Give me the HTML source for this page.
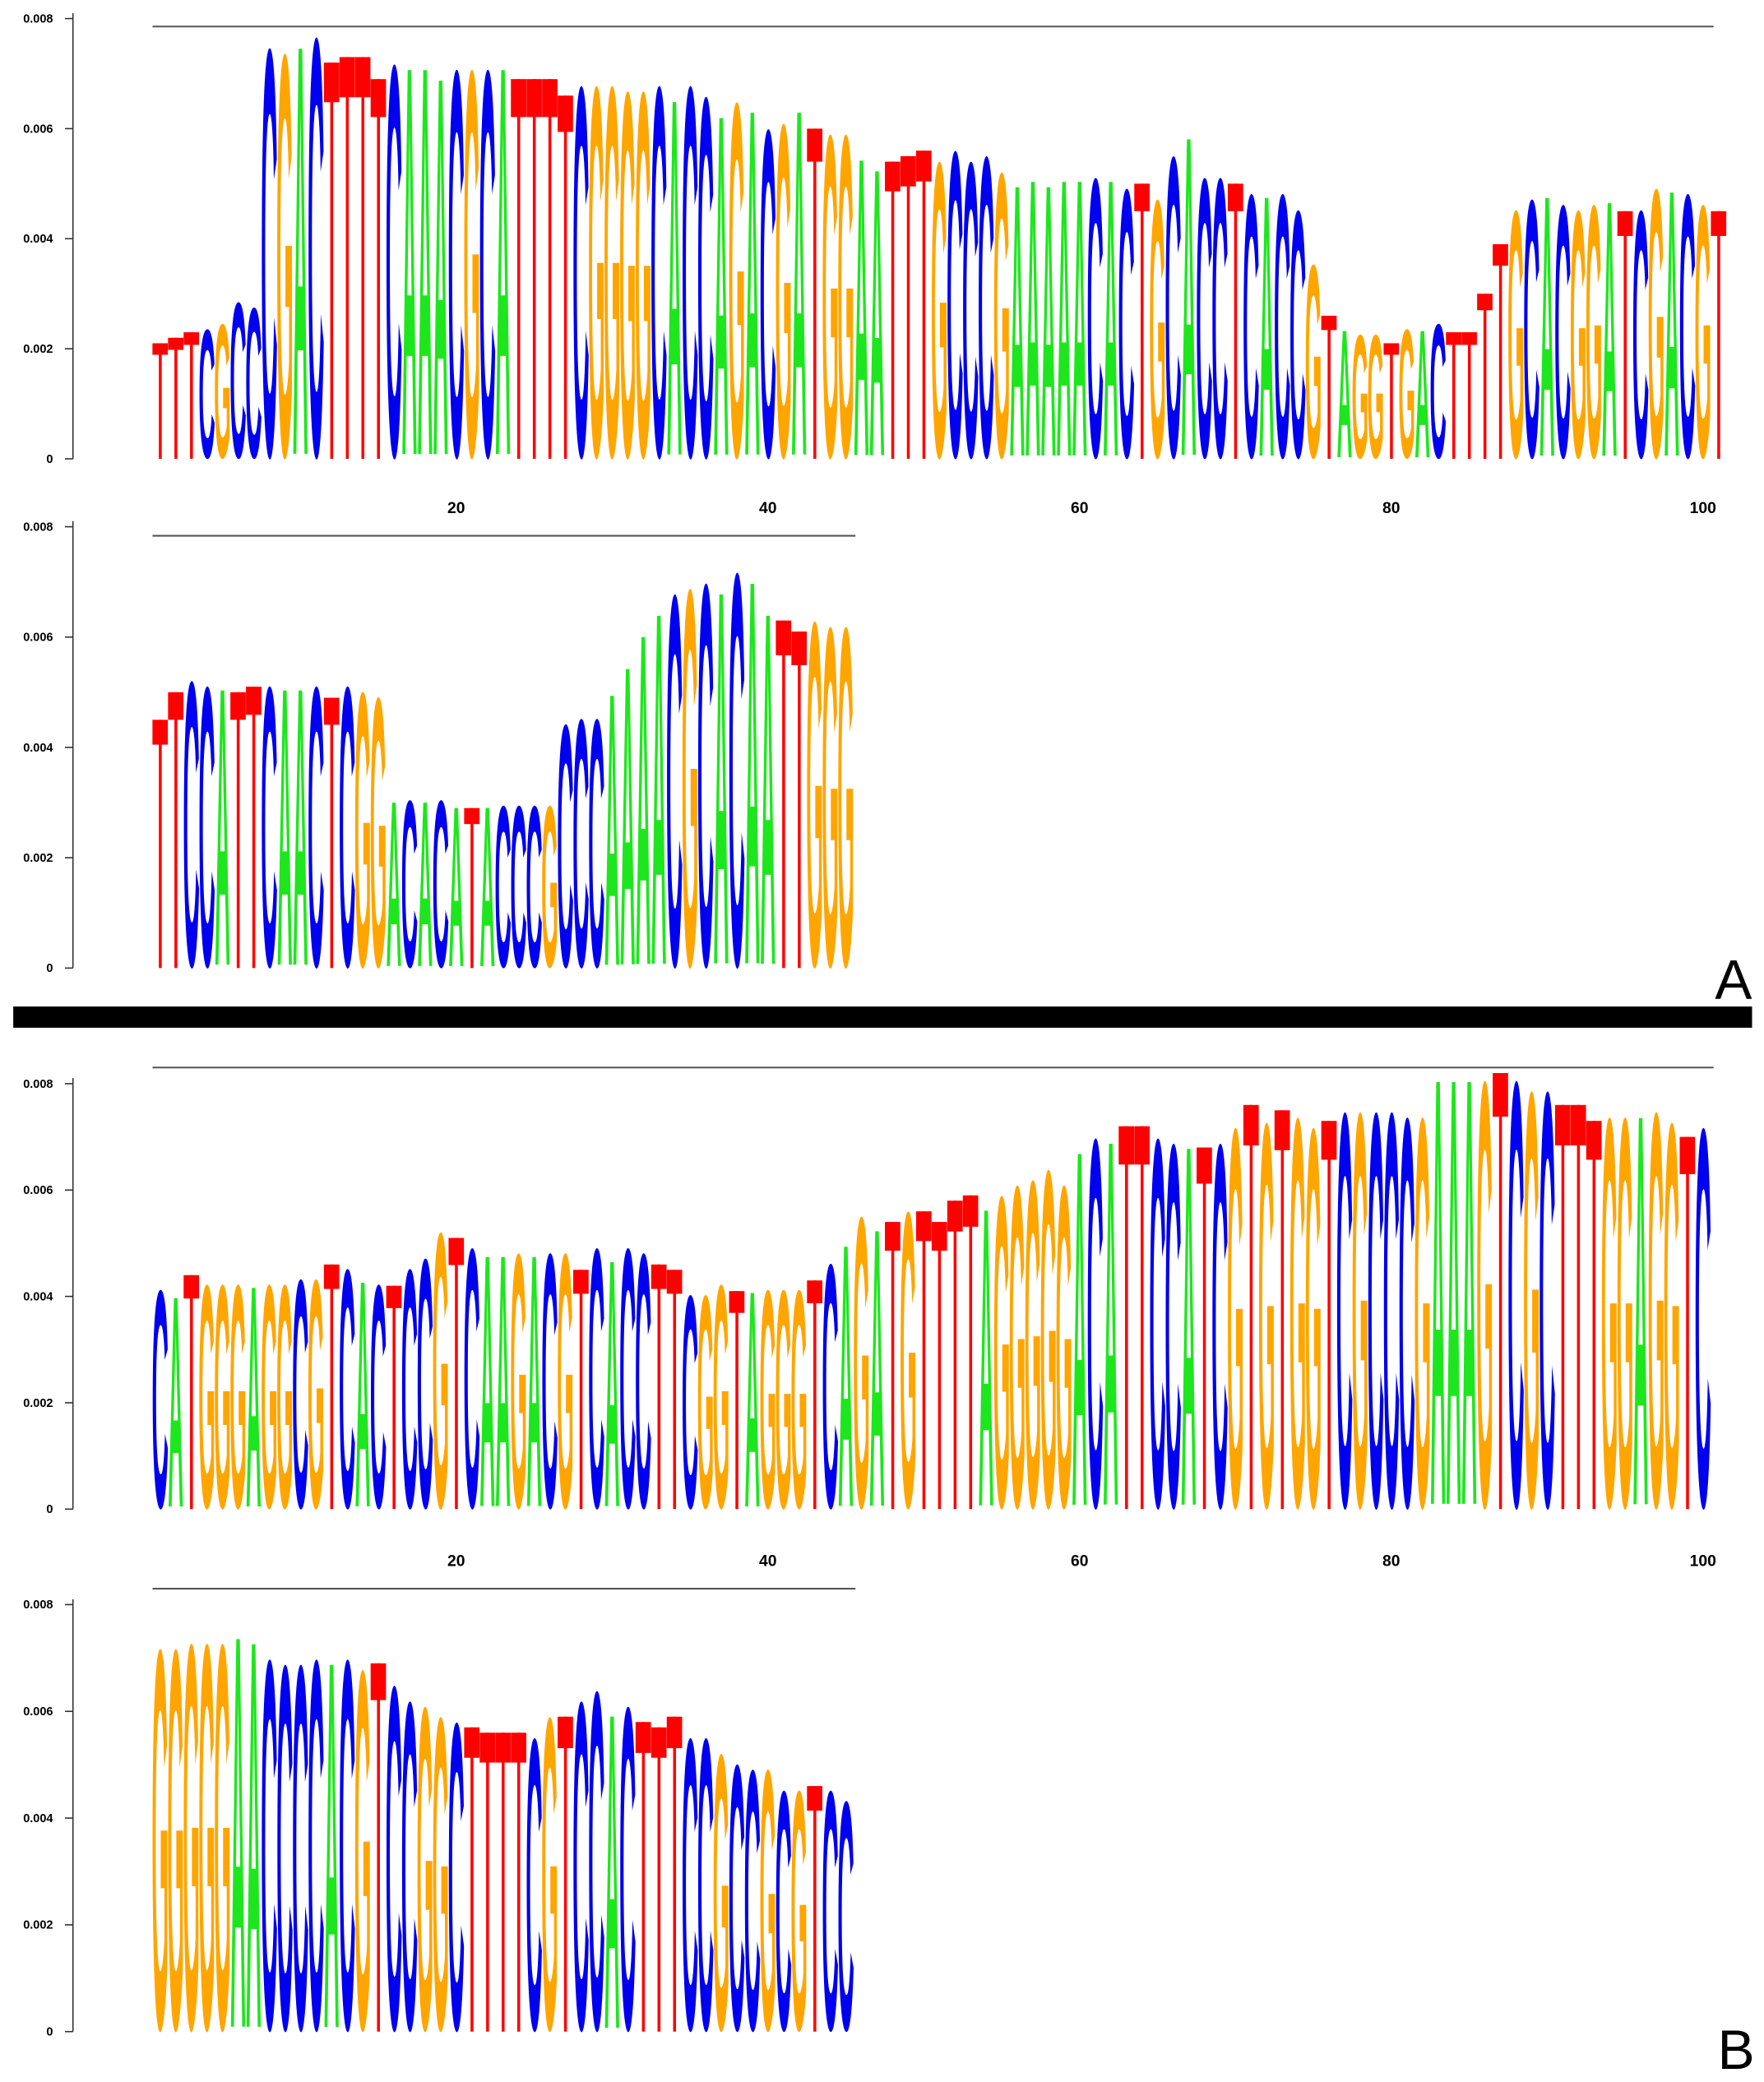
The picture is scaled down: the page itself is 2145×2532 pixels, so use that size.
<!DOCTYPE html>
<html><head><meta charset="utf-8"><style>
html,body{margin:0;padding:0;background:#fff;}
svg{display:block;}
</style></head><body>
<svg id="s" xmlns="http://www.w3.org/2000/svg" width="2145" height="2532" viewBox="0 0 1330 1570" preserveAspectRatio="none">
<rect x="10" y="759" width="1311" height="16" fill="#000"/>
<text x="1307" y="753" font-family="Liberation Sans, sans-serif" font-size="42" text-anchor="middle">A</text>
<text x="1309" y="1560" font-family="Liberation Sans, sans-serif" font-size="42" text-anchor="middle">B</text>
</svg>
<script>
var S=document.getElementById('s'),NS='http://www.w3.org/2000/svg';
function el(t,a,txt){var e=document.createElementNS(NS,t);for(var k in a)e.setAttribute(k,a[k]);if(txt!==undefined)e.textContent=txt;S.appendChild(e);return e;}
var col={A:'#1ee61e',C:'#0000f0',G:'#ffa500',T:'#ff0000'};
var wid={A:70,C:64,G:68};
function panel(zero,top,unit,seq,lineY,lineEnd,xlab,labY){
  el('line',{x1:55,y1:top-4,x2:55,y2:zero,stroke:'#333','stroke-width':1});
  for(var i=0;i<=4;i++){var y=zero-i*2*unit;
    el('line',{x1:49,y1:y,x2:55,y2:y,stroke:'#333','stroke-width':1});
    el('text',{x:40,y:y+3,'font-family':'Liberation Sans, sans-serif','font-size':9,'font-weight':'bold','text-anchor':'end'},i==0?'0':'0.00'+(2*i));
  }
  el('line',{x1:115,y1:lineY,x2:lineEnd,y2:lineY,stroke:'#555','stroke-width':1.3});
  var items=seq.trim().split(/\s+/);
  for(var p=0;p<items.length;p++){
    var L=items[p][0],h=parseFloat(items[p].slice(1))*unit,cx=109+11.75*(p+1);
    if(L=='T'){
      var sq=Math.max(7,h*0.1);
      el('rect',{x:cx-1,y:zero-h,width:2.2,height:h,fill:col.T});
      el('rect',{x:cx-5.8,y:zero-h,width:11.6,height:sq,fill:col.T});
    }else{
      var sy=h/72,sx=11.2/wid[L];
      el('text',{transform:'translate('+cx+','+(zero-0.012*h)+') scale('+sx+','+sy+')','font-family':'Liberation Sans, sans-serif','font-weight':'bold','font-size':100,'text-anchor':'middle',fill:col[L]},L);
    }
  }
  if(xlab){[20,40,60,80,100].forEach(function(v){
    el('text',{x:109+11.75*v,y:labY,'font-family':'Liberation Sans, sans-serif','font-size':12,'font-weight':'bold','text-anchor':'middle'},String(v));});}
}
panel(346,14,41.5,
"T2.1 T2.2 T2.3 C2.4 G2.5 C2.9 C2.8 C7.6 G7.5 A7.7 C7.8 T7.2 T7.3 T7.3 T6.9 C7.3 A7.3 A7.3 A7.1 C7.2 G7.2 C7.2 A7.3 T6.9 T6.9 T6.9 T6.6 C6.9 G6.9 G6.9 G6.8 G6.8 C6.9 A6.7 C6.9 C6.7 A6.4 G6.6 A6.5 C6.1 G6.2 A6.5 T6.0 G6.0 G6.0 A5.6 A5.4 T5.4 T5.5 T5.6 G5.5 C5.7 C5.5 C5.6 G5.3 A5.1 A5.2 A5.1 A5.2 A5.2 C5.2 A5.2 C5.0 T5.0 G4.8 C5.6 A6.0 C5.2 C5.2 T5.0 C4.9 A4.9 C4.9 C4.6 G3.6 T2.6 A2.4 G2.3 G2.3 T2.1 G2.4 A2.4 C2.5 T2.3 T2.3 T3.0 T3.9 G4.6 C4.8 A4.9 C4.7 G4.6 G4.7 A4.8 T4.5 C4.6 G5.0 A5.0 C4.9 G4.7 T4.5",
20,1292,true,387);
panel(730,397,41.6,
"T4.5 T5.0 C5.3 C5.2 A5.2 T5.0 T5.1 C5.2 A5.2 A5.2 C5.2 T4.9 C5.2 G5.1 G5.0 A3.1 C3.1 A3.1 C3.1 A3.0 T2.9 A3.0 C3.0 C3.0 C3.0 G3.0 C4.5 C4.6 C4.6 A5.1 A5.6 A6.2 A6.6 C6.9 G7.0 C7.1 A7.0 C7.3 A7.2 A6.6 T6.3 T6.1 G6.4 G6.3 G6.3",
404,645,false,0);
panel(1138,817,40.1,
"C4.2 A4.1 T4.4 G4.3 G4.3 G4.3 A4.3 G4.3 G4.3 C4.4 G4.4 T4.6 C4.6 A4.4 C4.3 T4.2 C4.6 C4.8 G5.3 T5.1 C5.0 A4.9 A4.9 G4.9 A4.9 C4.9 G4.9 T4.5 C5.0 A4.8 C5.0 C4.9 T4.6 T4.5 C4.1 G4.1 G4.3 T4.1 A4.2 G4.2 G4.2 G4.2 T4.3 C4.7 A5.1 G5.6 A5.4 T5.4 G5.7 T5.6 T5.4 T5.8 T5.9 A5.8 G6.0 G6.2 G6.3 G6.5 G6.2 A6.9 C7.1 A7.1 T7.2 T7.2 C7.1 C7.0 A7.0 T6.8 C7.0 G7.3 T7.6 G7.4 T7.5 G7.5 G7.3 T7.3 C7.6 G7.6 C7.6 C7.6 C7.5 G7.5 A8.3 A8.3 A8.3 G8.2 T8.2 C8.2 G8.0 C8.0 T7.6 T7.6 T7.3 G7.5 G7.5 A7.6 G7.6 G7.4 T7.0 C7.3",
805,1292,true,1181);
panel(1532,1210,40.25,
"G7.3 G7.3 G7.4 G7.4 G7.4 A7.6 A7.5 C7.1 C7.0 C7.0 C7.1 A7.1 C7.1 G6.9 T6.9 C6.6 C6.3 G6.2 G6.0 C5.9 T5.7 T5.6 T5.6 T5.6 C5.6 G6.0 T5.9 C6.3 C6.5 A6.1 C6.2 T5.8 T5.7 T5.9 C5.6 C5.6 G5.3 C5.1 C5.0 G5.0 C4.6 G4.6 T4.6 C4.6 C4.4",
1198,645,false,0);
</script>
</body></html>
